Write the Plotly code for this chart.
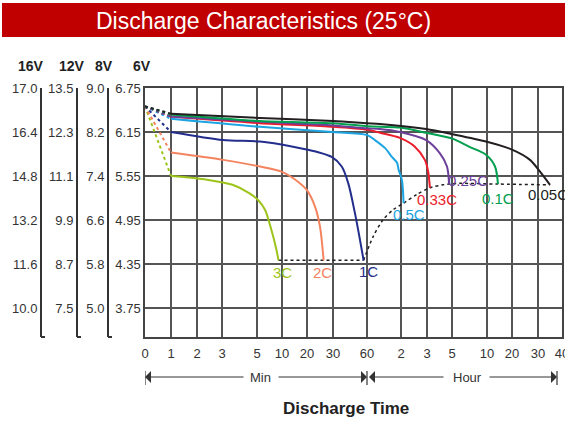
import numpy as np
import plotly.graph_objects as go

# ---------------- data ----------------
# time axis ticks (minutes) and their printed labels
tick_minutes = [0, 1, 2, 3, 5, 10, 20, 30, 60, 120, 180, 300, 600, 1200, 1800, 2400]
tick_labels = ["0", "1", "2", "3", "5", "10", "20", "30", "60", "2", "3", "5", "10", "20", "30", "40"]

# voltage scales (6V is the plotted scale, others are relabelled)
v6_ticks = [6.75, 6.15, 5.55, 4.95, 4.35, 3.75]
v6_labels = ["6.75", "6.15", "5.55", "4.95", "4.35", "3.75"]
v8_labels = ["9.0", "8.2", "7.4", "6.6", "5.8", "5.0"]
v12_labels = ["13.5", "12.3", "11.1", "9.9", "8.7", "7.5"]
v16_labels = ["17.0", "16.4", "14.8", "13.2", "11.6", "10.0"]

start_voltage = 6.50   # open-circuit voltage at t = 0

rates = ["3C", "2C", "1C", "0.5C", "0.33C", "0.25C", "0.1C", "0.05C"]

t_3C = [1, 2.4, 3.6, 4.6, 5.25, 6.6, 7.9, 8.9, 9.3]
v_3C = [5.55, 5.50, 5.43, 5.31, 5.22, 5.09, 4.81, 4.54, 4.40]

t_2C = [1, 3.06, 5.6, 9.9, 14.5, 19.9, 23.1, 25.0, 26.4]
v_2C = [5.87, 5.77, 5.68, 5.61, 5.52, 5.36, 5.13, 4.86, 4.40]

t_1C = [1, 3.06, 5.6, 14.4, 23.7, 29.5, 37.7, 43.5, 49.4, 53.8, 57]
v_1C = [6.15, 6.04, 6.02, 5.95, 5.88, 5.81, 5.68, 5.45, 5.04, 4.68, 4.40]

t_05C = [1, 5.6, 30, 60, 74, 92, 104, 113, 116, 122, 126]
v_05C = [6.33, 6.22, 6.15, 6.11, 6.04, 5.93, 5.81, 5.73, 5.63, 5.50, 5.18]

t_033C = [1, 5.6, 30, 60, 83, 118, 152, 175, 185, 194]
v_033C = [6.36, 6.27, 6.22, 6.18, 6.14, 6.07, 5.95, 5.77, 5.62, 5.39]

t_025C = [1, 5.6, 30, 60, 83, 118, 178, 242, 276, 286]
v_025C = [6.36, 6.29, 6.24, 6.20, 6.19, 6.15, 6.04, 5.86, 5.68, 5.44]

t_01C = [1, 5.6, 30, 60, 83, 118, 178, 303, 446, 591, 792, 864]
v_01C = [6.39, 6.30, 6.27, 6.23, 6.22, 6.21, 6.14, 6.06, 5.95, 5.84, 5.68, 5.44]

t_005C = [1, 5.6, 30, 60, 83, 178, 303, 591, 1200, 1615, 1850, 2100]
v_005C = [6.40, 6.34, 6.30, 6.27, 6.26, 6.19, 6.12, 6.02, 5.91, 5.77, 5.61, 5.43]

# end-of-discharge (cut-off) line
cutoff_flat_t = [9.3, 26.4, 57]
cutoff_flat_v = [4.40, 4.40, 4.40]
cutoff_curve_t = [57, 70.6, 88, 106, 126, 157, 194, 257, 286, 369, 864, 2100]
cutoff_curve_v = [4.40, 4.72, 4.95, 5.09, 5.18, 5.30, 5.39, 5.43, 5.44, 5.45, 5.44, 5.43]

series_t = [t_3C, t_2C, t_1C, t_05C, t_033C, t_025C, t_01C, t_005C]
series_v = [v_3C, v_2C, v_1C, v_05C, v_033C, v_025C, v_01C, v_005C]

# ---------------- styles / scale ----------------
# piecewise time scale of the printed chart (axis units per tick)
scale_pos = [0, 26, 52, 77, 112, 137, 162, 188, 222, 256, 282, 307, 342, 367, 393, 417]


def tpos(t):
    return np.interp(np.asarray(t, dtype=float), tick_minutes, scale_pos)


colors = {
    "3C": "#9DC41A", "2C": "#F4845F", "1C": "#232E8C", "0.5C": "#1CA5E2",
    "0.33C": "#EC1C2B", "0.25C": "#6C3F99", "0.1C": "#00A04E", "0.05C": "#231F20",
}
# label offsets (px) relative to curve end point
label_style = {
    "3C": (4, -12, "center"), "2C": (-1, -12, "center"), "1C": (5, -11, "center"),
    "0.5C": (5, -11, "center"), "0.33C": (7, -12, "center"), "0.25C": (-3, 4, "left"),
    "0.1C": (0, -14, "center"), "0.05C": (-2, -10, "center"),
}
FONT = "Arial, Liberation Sans, sans-serif"
W, H = 565, 421
ML, MR, MT, MB = 0, 3, 88, 84
PW = W - ML - MR
PH = H - MT - MB


def px_x(p):
    return (p - ML) / PW


def px_y(p):
    return (H - MB - p) / PH


fig = go.Figure()

# dotted starts from open-circuit voltage
for r, tt, vv in zip(rates, series_t, series_v):
    fig.add_trace(go.Scatter(
        x=tpos([0, tt[0]]), y=[start_voltage, vv[0]], mode="lines",
        line=dict(color=colors[r], width=2, dash="dot"), hoverinfo="skip", showlegend=False))

# cut-off line
fig.add_trace(go.Scatter(x=tpos(cutoff_flat_t), y=cutoff_flat_v, mode="lines",
                         line=dict(color="#231F20", width=1.5, dash="dot"),
                         hoverinfo="skip", showlegend=False))
fig.add_trace(go.Scatter(x=tpos(cutoff_curve_t), y=cutoff_curve_v, mode="lines",
                         line=dict(color="#231F20", width=1.5, dash="dot", shape="spline", smoothing=0.8),
                         hoverinfo="skip", showlegend=False))

# discharge curves
for r, tt, vv in zip(rates, series_t, series_v):
    fig.add_trace(go.Scatter(
        x=tpos(tt), y=vv, mode="lines", name=r,
        line=dict(color=colors[r], width=2, shape="spline", smoothing=0.8), showlegend=False))
    dx, dy, anc = label_style[r]
    fig.add_annotation(x=float(tpos(tt[-1])), y=vv[-1], text=r, showarrow=False,
                       xshift=dx, yshift=dy, xanchor=anc, yanchor="middle",
                       font=dict(family=FONT, size=15, color=colors[r]))

y_range = [3.355, 6.75]
fig.update_layout(
    width=W, height=H, margin=dict(l=ML, r=MR, t=MT, b=MB, autoexpand=False),
    paper_bgcolor="white", plot_bgcolor="white",
    xaxis=dict(domain=[px_x(145), 1], range=[0, scale_pos[-1]],
               tickmode="array", tickvals=scale_pos, ticktext=tick_labels,
               showgrid=True, gridcolor="#555555", gridwidth=1.6, zeroline=False,
               showline=True, linecolor="#444", linewidth=1.5, mirror=True, ticks="",
               ticklabelstandoff=4, ticklabeloverflow="allow", automargin=False,
               tickfont=dict(family=FONT, size=13, color="#333")),
    yaxis=dict(range=y_range, tickmode="array", tickvals=v6_ticks, ticktext=v6_labels,
               showgrid=True, gridcolor="#555555", gridwidth=1.6, zeroline=False,
               showline=True, linecolor="#444", linewidth=1.5, mirror=True, ticks="",
               ticklabelstandoff=0, automargin=False,
               tickfont=dict(family=FONT, size=13, color="#333")),
)

# extra relabelled voltage scales (16V / 12V / 8V)
free_axes = [("yaxis2", "y2", 41, v16_labels), ("yaxis3", "y3", 77, v12_labels),
             ("yaxis4", "y4", 108, v8_labels)]
for name, ref, xp, labels in free_axes:
    fig.layout[name] = dict(range=y_range, overlaying="y", anchor="free", position=px_x(xp),
                            side="left", tickmode="array", tickvals=v6_ticks, ticktext=labels,
                            showgrid=False, zeroline=False, showline=True, linecolor="#333",
                            linewidth=2, ticks="", ticklabelstandoff=0, automargin=False,
                            tickfont=dict(family=FONT, size=13, color="#333"))
    fig.add_trace(go.Scatter(x=[], y=[], yaxis=ref, mode="lines", hoverinfo="skip", showlegend=False))
    fig.add_shape(type="line", xref="paper", yref="paper", x0=px_x(xp), x1=px_x(xp + 4),
                  y0=0, y1=0, line=dict(color="#333", width=2))

# headers
for txt, xp in [("16V", 31), ("12V", 72), ("8V", 104), ("6V", 142)]:
    fig.add_annotation(x=px_x(xp), y=px_y(66), xref="paper", yref="paper", text="<b>" + txt + "</b>",
                       showarrow=False, font=dict(family=FONT, size=14, color="#222"),
                       xanchor="center", yanchor="middle")

# title banner
fig.add_shape(type="rect", xref="paper", yref="paper", x0=px_x(2), x1=px_x(566),
              y0=px_y(37), y1=px_y(3), fillcolor="#C00000", line=dict(width=0), layer="above")
fig.add_annotation(x=px_x(263), y=px_y(21), xref="paper", yref="paper",
                   text="Discharge Characteristics (25°C)", showarrow=False,
                   font=dict(family=FONT, size=23, color="white"), xanchor="center", yanchor="middle")

# Min / Hour arrows
ya = px_y(377)
for xp in [0, 222, 412]:
    fig.add_shape(type="line", xref="x", yref="paper", x0=xp, x1=xp,
                  y0=px_y(371), y1=px_y(385), line=dict(color="#333", width=1.2))
for tip, tail in [(0, 100), (222, 132), (224, 300), (412, 343)]:
    fig.add_annotation(x=tip, y=ya, xref="x", yref="paper", ax=tail, ay=0, axref="x", ayref="pixel",
                       text="", showarrow=True, arrowhead=1, arrowsize=2, arrowwidth=1,
                       arrowcolor="#333", standoff=0)
fig.add_annotation(x=115, y=ya, xref="x", yref="paper", text="Min", showarrow=False,
                   xanchor="center", yanchor="middle",
                   font=dict(family=FONT, size=13, color="#333"))
fig.add_annotation(x=322, y=ya, xref="x", yref="paper", text="Hour", showarrow=False,
                   xanchor="center", yanchor="middle",
                   font=dict(family=FONT, size=13, color="#333"))
fig.add_annotation(x=px_x(346), y=px_y(408), xref="paper", yref="paper",
                   text="<b>Discharge Time</b>", showarrow=False,
                   xanchor="center", yanchor="middle",
                   font=dict(family=FONT, size=17, color="#222"))

# remove the browser's default page margin so the 565x421 figure fills the window
fig.write_html("out.html", config={"displayModeBar": False},
               post_script="document.body.style.margin='0';document.body.style.overflow='hidden';")
